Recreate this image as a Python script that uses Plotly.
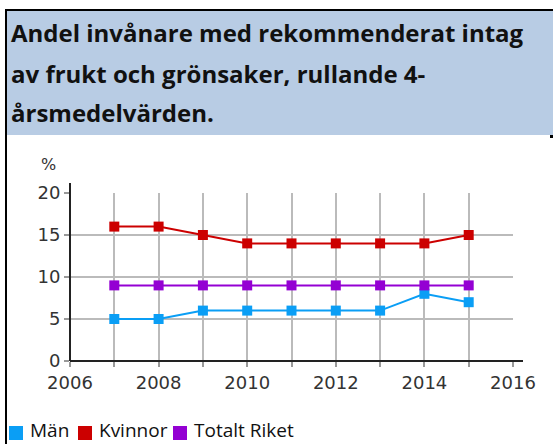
import plotly.graph_objects as go

# ---- data ----
years = [2007, 2008, 2009, 2010, 2011, 2012, 2013, 2014, 2015]
man = [5, 5, 6, 6, 6, 6, 6, 8, 7]
kvinnor = [16, 16, 15, 14, 14, 14, 14, 14, 15]
totalt = [9, 9, 9, 9, 9, 9, 9, 9, 9]
series_names = ["Män", "Kvinnor", "Totalt Riket"]
series_colors = ["#0A9EF5", "#CC0000", "#9400D3"]
title_lines = ["Andel invånare med rekommenderat intag",
               "av frukt och grönsaker, rullande 4-",
               "årsmedelvärden."]
y_unit = "%"

W, H = 553, 444
L, R, T, B = 70, 40, 193, 83
PW, PH = W - L - R, H - T - B


def px(x):
    return (x - L) / PW


def py(y):
    return (H - B - y) / PH


fig = go.Figure()
for name, vals, col in zip(series_names, [man, kvinnor, totalt], series_colors):
    fig.add_trace(go.Scatter(
        x=years, y=vals, name=name, mode="lines+markers",
        line=dict(color=col, width=2),
        marker=dict(symbol="square", size=10, color=col),
        showlegend=False, cliponaxis=False))

shapes = []
# header box
shapes.append(dict(type="rect", xref="paper", yref="paper",
                   x0=px(7), x1=px(553), y0=py(135), y1=py(11),
                   fillcolor="#B8CCE4", line=dict(width=0), layer="below"))
# top border
shapes.append(dict(type="rect", xref="paper", yref="paper",
                   x0=px(5), x1=px(553), y0=py(11), y1=py(9),
                   fillcolor="black", line=dict(width=0)))
# left border
shapes.append(dict(type="rect", xref="paper", yref="paper",
                   x0=px(5), x1=px(7), y0=py(444), y1=py(9),
                   fillcolor="black", line=dict(width=0)))
# small mark right
shapes.append(dict(type="rect", xref="paper", yref="paper",
                   x0=px(550), x1=px(553), y0=py(138), y1=py(135),
                   fillcolor="black", line=dict(width=0)))
# axis lines (extend past plot area)
shapes.append(dict(type="line", xref="paper", yref="paper",
                   x0=0, x1=0, y0=0, y1=py(183),
                   line=dict(color="#222222", width=2)))
shapes.append(dict(type="line", xref="paper", yref="paper",
                   x0=0, x1=px(523), y0=0, y1=0,
                   line=dict(color="#222222", width=2)))

annotations = []
title_y = [32, 73, 113]
for line, yy in zip(title_lines, title_y):
    annotations.append(dict(text="<b>" + line + "</b>", xref="paper", yref="paper",
                            x=px(9), y=py(yy), xanchor="left", yanchor="middle",
                            showarrow=False,
                            font=dict(family="Open Sans", size=24, color="#111111")))
annotations.append(dict(text=y_unit, xref="paper", yref="paper",
                        x=px(48), y=py(164), xanchor="center", yanchor="middle",
                        showarrow=False,
                        font=dict(family="DejaVu Sans", size=16, color="#333333")))

# legend built from series
leg_y = 433
leg_sq = [9, 78, 173]
for name, col, sx in zip(series_names, series_colors, leg_sq):
    shapes.append(dict(type="rect", xref="paper", yref="paper",
                       x0=px(sx), x1=px(sx + 14), y0=py(leg_y + 7), y1=py(leg_y - 7),
                       fillcolor=col, line=dict(width=0)))
    annotations.append(dict(text=name, xref="paper", yref="paper",
                            x=px(sx + 19), y=py(leg_y - 3), xanchor="left", yanchor="middle",
                            showarrow=False,
                            font=dict(family="Open Sans", size=19, color="#111111")))

fig.update_layout(
    width=W, height=H,
    margin=dict(l=L, r=R, t=T, b=B, pad=0),
    paper_bgcolor="white", plot_bgcolor="white",
    shapes=shapes, annotations=annotations,
    xaxis=dict(range=[2006, 2016], tick0=2006, dtick=2,
               showgrid=True, gridcolor="#BBBBBB", gridwidth=2,
               ticks="outside", ticklen=5, tickcolor="#999999", tickwidth=2,
               showline=False, zeroline=False,
               tickfont=dict(family="DejaVu Sans", size=18, color="#333333"),
               minor=dict(dtick=1, tick0=2006, ticks="outside", ticklen=5,
                          tickcolor="#999999", tickwidth=2,
                          showgrid=True, gridcolor="#BBBBBB", gridwidth=2)),
    yaxis=dict(range=[0, 20], tick0=0, dtick=5,
               showgrid=True, gridcolor="#BBBBBB", gridwidth=2,
               ticks="outside", ticklen=5, tickcolor="#999999", tickwidth=2,
               showline=False, zeroline=False,
               tickfont=dict(family="DejaVu Sans", size=18, color="#333333")),
)

fig.write_html("out.html", config={"displayModeBar": False},
               post_script="document.body.style.margin='0';document.body.style.overflow='hidden';")
